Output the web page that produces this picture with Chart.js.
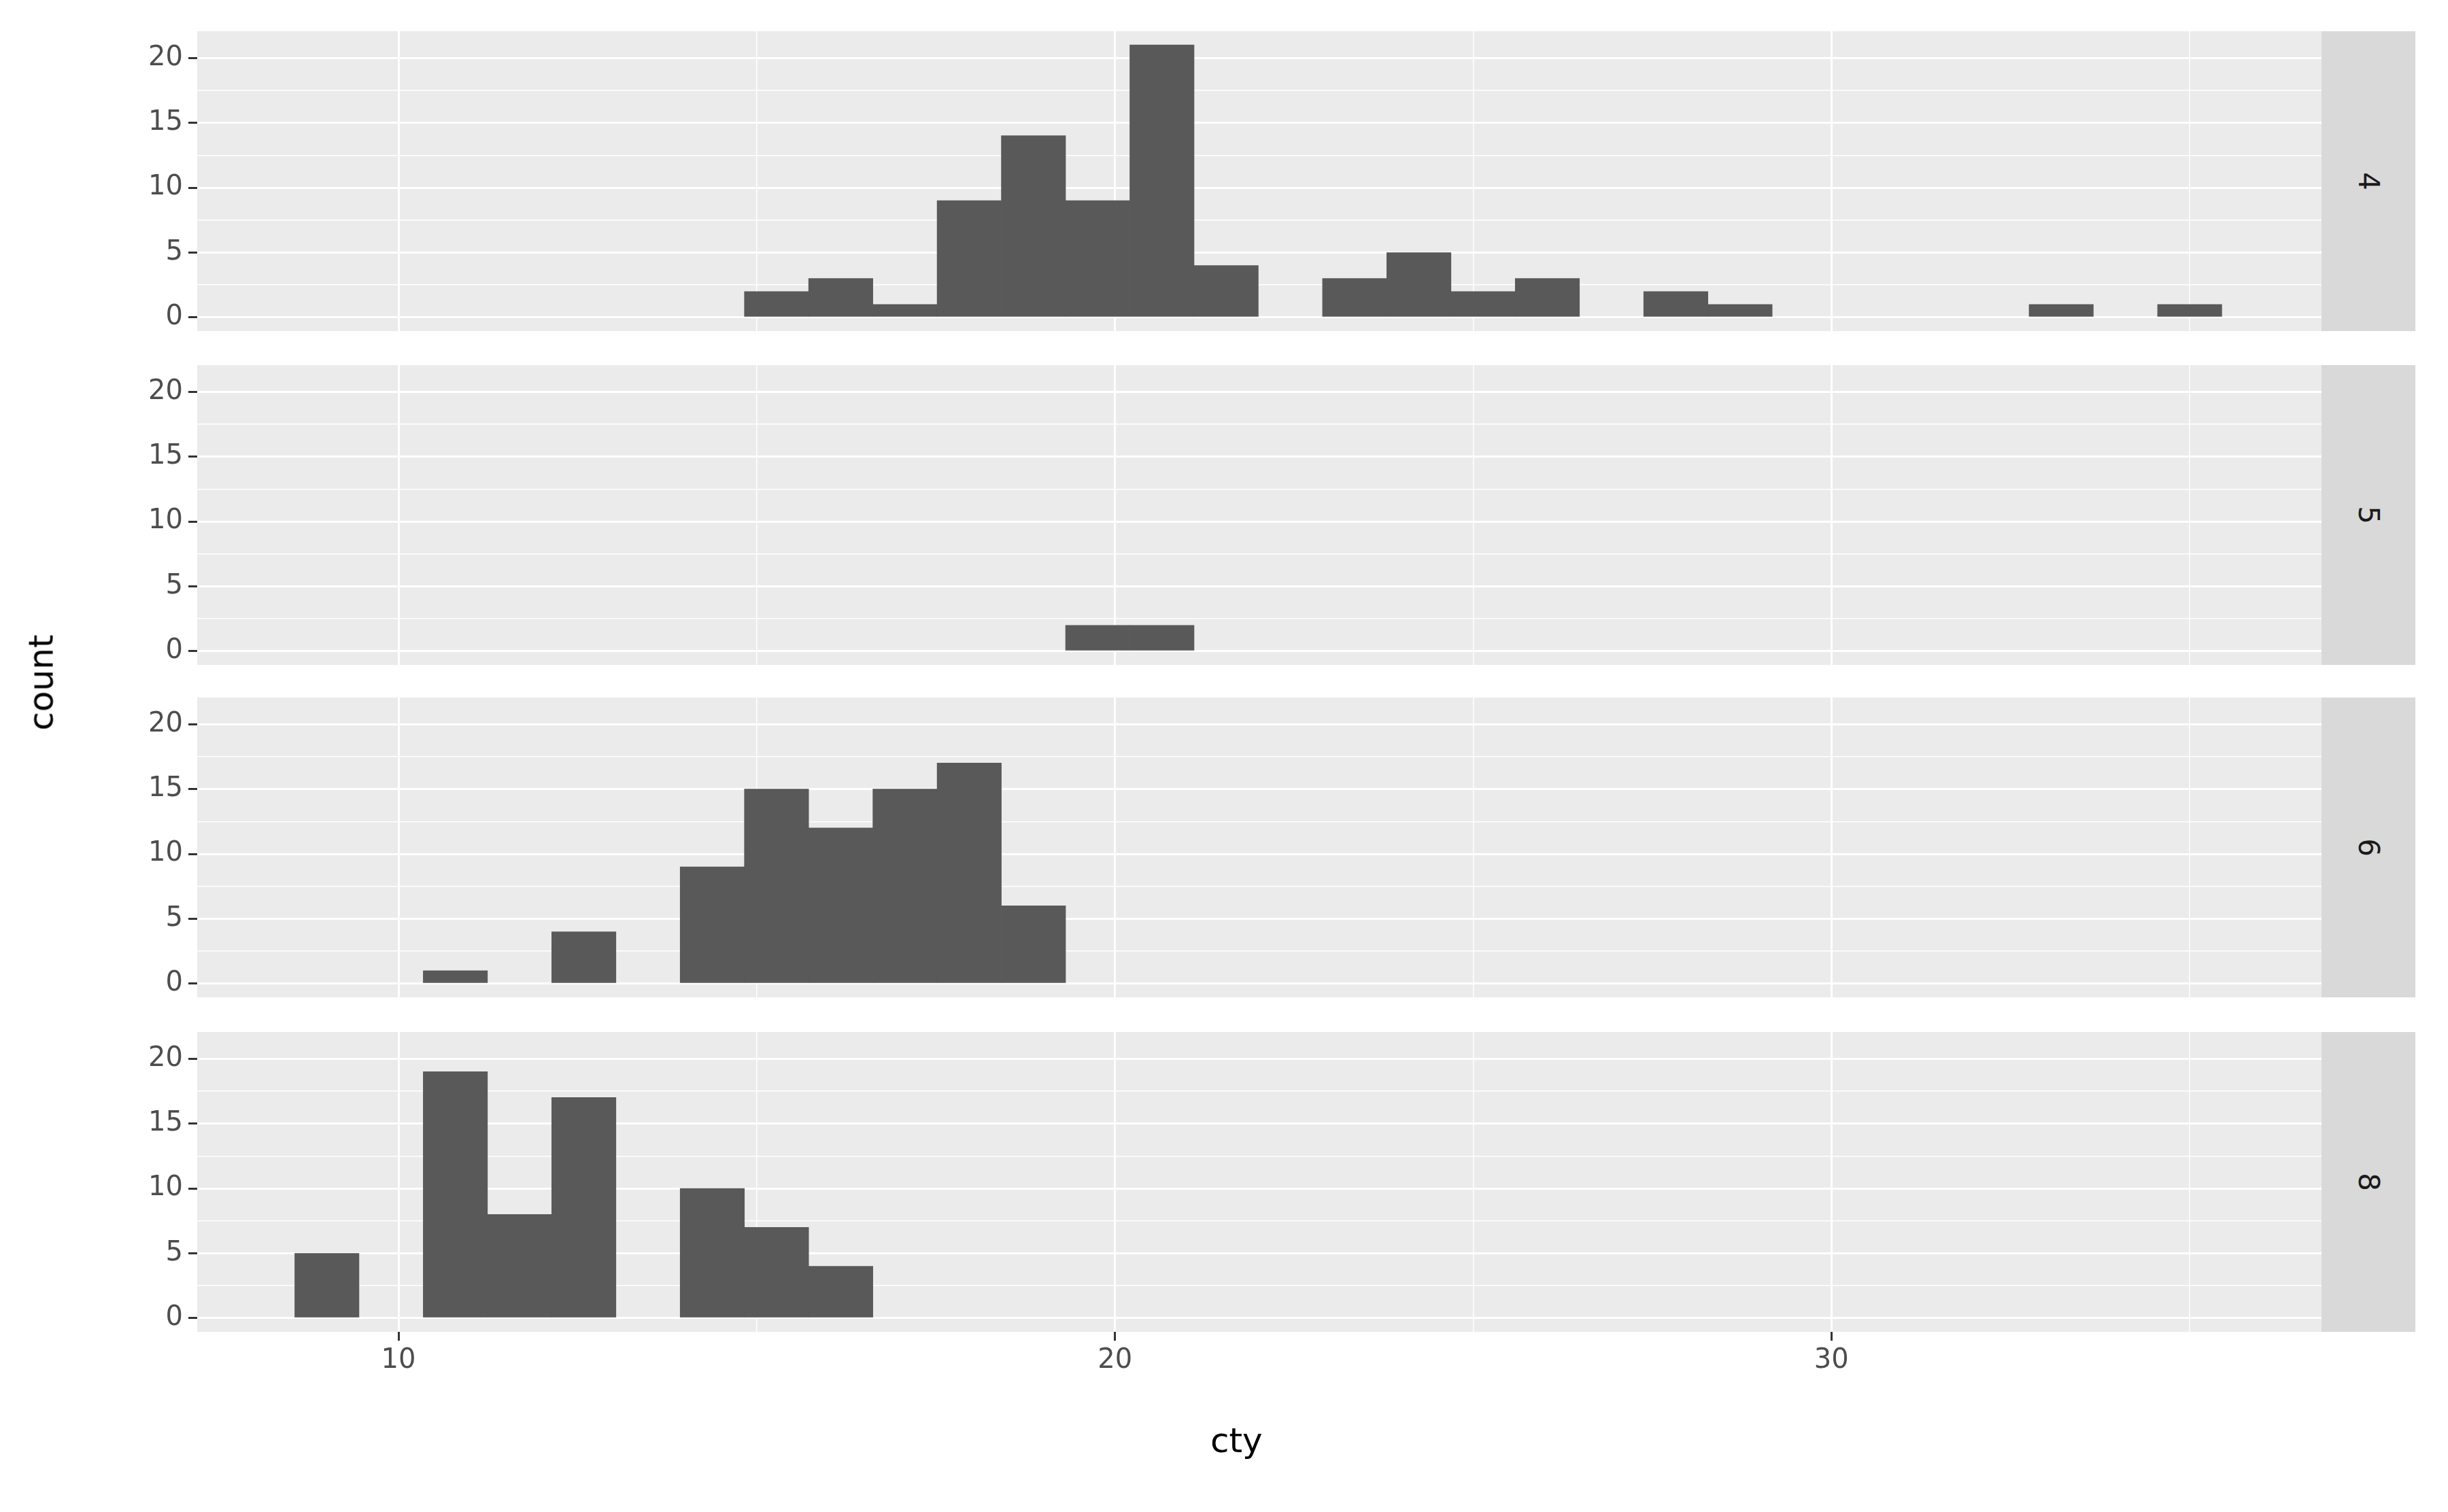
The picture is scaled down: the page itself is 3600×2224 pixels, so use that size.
<!DOCTYPE html>
<html><head><meta charset="utf-8">
<script src="https://cdn.jsdelivr.net/npm/chart.js@4"></script>
<style>
body{margin:0;background:#fff;width:3600px;height:2224px;position:relative;overflow:hidden;font-family:"DejaVu Sans";}
canvas{position:absolute;left:0;}
.strip{position:absolute;left:3414px;width:138px;background:#D9D9D9;color:#1A1A1A;font-size:42px;display:flex;align-items:center;justify-content:center;}
.strip span{transform:rotate(90deg);display:block;}
.lab{position:absolute;color:#000;font-size:50px;}
</style></head><body>
<script>
const binStart = 9, binWidth = 26/29;
const panels = ["4","5","6","8"];
const counts4 = [0,0,0,0,0,0,0,2,3,1,9,14,9,21,4,0,3,5,2,3,0,2,1,0,0,0,0,1,0,1];
const counts5 = [0,0,0,0,0,0,0,0,0,0,0,0,2,2,0,0,0,0,0,0,0,0,0,0,0,0,0,0,0,0];
const counts6 = [0,0,1,0,4,0,9,15,12,15,17,6,0,0,0,0,0,0,0,0,0,0,0,0,0,0,0,0,0,0];
const counts8 = [5,0,19,8,17,0,10,7,4,0,0,0,0,0,0,0,0,0,0,0,0,0,0,0,0,0,0,0,0,0];
const allCounts = [counts4,counts5,counts6,counts8];
const xTickLabels = [10,20,30];
const yTickLabels = [0,5,10,15,20];

const tops = [46,537,1026,1518];
const ph = 441;
const bg = {id:'bg',beforeDraw(c){const a=c.chartArea,x=c.ctx;x.save();x.fillStyle='#EBEBEB';x.fillRect(a.left,a.top,a.right-a.left,a.bottom-a.top);x.restore();}};
const ylab = {id:'ylab',afterDraw(c){const y=c.scales.y,x=c.ctx;x.save();x.fillStyle='#4D4D4D';x.font='40px "DejaVu Sans"';x.textAlign='right';x.textBaseline='middle';
  yTickLabels.forEach(v=>x.fillText(String(v),290-13-8,y.getPixelForValue(v)));x.restore();}};

allCounts.forEach((cnt,i)=>{
  const last = i===3;
  const cv=document.createElement('canvas');
  const h = ph + (last?110:0);
  cv.width=3414; cv.height=h; cv.style.top=tops[i]+'px';
  document.body.appendChild(cv);
  const s=document.createElement('div'); s.className='strip';
  s.style.top=tops[i]+'px'; s.style.height=ph+'px';
  s.innerHTML='<span>'+panels[i]+'</span>'; document.body.appendChild(s);
  new Chart(cv,{type:'bar',
    data:{datasets:[{data:cnt.map((v,k)=>({x:binStart+k*binWidth,y:v===0?null:v})),backgroundColor:'#595959',borderWidth:0,barPercentage:1,categoryPercentage:1,grouped:false}]},
    options:{responsive:false,animation:false,devicePixelRatio:1,layout:{padding:0},
      plugins:{legend:{display:false},tooltip:{enabled:false}},
      scales:{
        x:{type:'linear',offset:false,min:7.19,max:36.84,afterBuildTicks(ax){const t=[];for(let v=10;v<=35;v+=5)t.push({value:v});ax.ticks=t;},
          afterFit(ax){ax.height=last?110:0;},
          border:{display:false},
          grid:{offset:false,color:'#fff',lineWidth:c=>c.tick&&c.tick.value%10===0?3:1.5,drawTicks:last,tickLength:13,tickWidth:3,tickColor:c=>c.tick&&c.tick.value%10===0?'#333':'rgba(0,0,0,0)'},
          ticks:{display:last,color:'#4D4D4D',font:{family:'DejaVu Sans',size:40},padding:6,maxRotation:0,autoSkip:false,callback:v=>xTickLabels.includes(v)?String(v):''}},
        y:{type:'linear',min:-1.05,max:22.05,afterBuildTicks(ax){const t=[];for(let v=0;v<=20;v+=2.5)t.push({value:v});ax.ticks=t;},
          afterFit(ax){ax.width=290;},
          border:{display:false},
          grid:{color:'#fff',lineWidth:c=>c.tick&&c.tick.value%5===0?3:1.5,drawTicks:true,tickLength:13,tickWidth:3,tickColor:c=>c.tick&&c.tick.value%5===0?'#333':'rgba(0,0,0,0)'},
          ticks:{display:false}}
      }},plugins:[bg,ylab]});
});
const xl=document.createElement('div');xl.className='lab';xl.textContent='cty';xl.style.left='1780px';xl.style.top='2090px';document.body.appendChild(xl);
const yl=document.createElement('div');yl.className='lab';yl.textContent='count';yl.style.left='-10px';yl.style.top='975px';yl.style.transform='rotate(-90deg)';document.body.appendChild(yl);
</script>
</body></html>
